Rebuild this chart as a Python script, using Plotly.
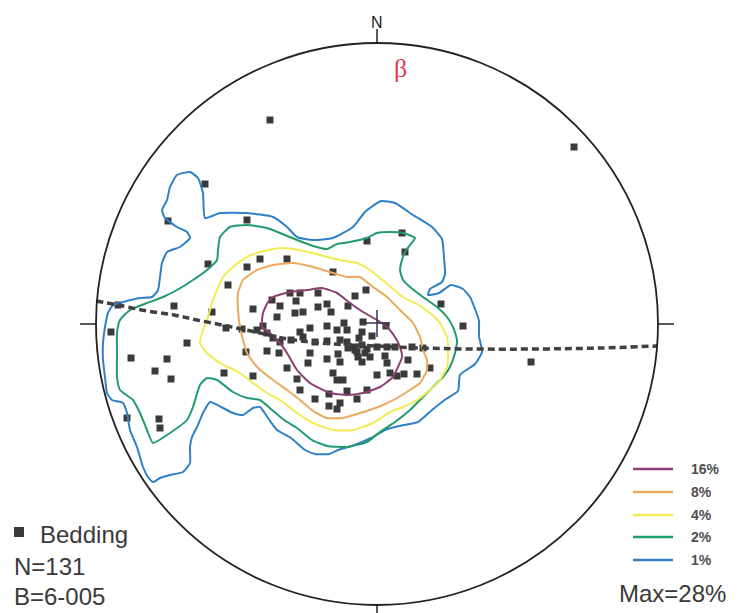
import plotly.graph_objects as go

# Net coordinates: primitive circle radius = 281 net units, centre (0, 0), north up.
NET_R = 281

# ---- Bedding poles (projected positions on the net) ----
pole_x = [-107, 197, -172, -209, -130, 25, -10, 28, -169, -117, -90, -130, -149, -44, -11, -22,
          64, 86, -259, -203, -165, -266, -190, -124, -151, -135, -246, -210, -222, -206, -153,
          -124, -131, -110, -98, -90, -80, -77, -62, -48, -48, -40, -37, -30, -20, -10, -250,
          -218, -217, -114, -104, -97, -86, -77, -67, -50, -40, -30, -15, -100, -105, -97, -87,
          -77, -82, -74, -59, -59, -50, -67, -50, -39, -37, -44, -40, -62, -50, -30, 0, -29, -81,
          -46, -33, -14, 9, -120, -110, -74, -37, -24, -15, -20, -12, -19, -7, 0, 10, 18, 35, 46,
          -69, -34, 8, 10, 13, 20, 27, 31, 40, 53, 154, -29, -22, -15, -10, -18, -5]
pole_y = [204, 177, 140, 103, 104, 91, 83, 72, 60, 65, 65, 57, 39, 52, 34, 28,
          20, -2, 19, 18, 12, -8, -19, 15, -4, -5, -34, -35, -47, -55, -49,
          -52, -28, -27, -29, -44, -55, -66, -75, -70, -82, -85, -79, -67, -75, -66, -94,
          -95, -104, -2, -14, -18, -16, -8, -4, -2, -6, -6, -8, 7, 24, 18, 31,
          31, 11, 12, 31, 17, 20, -29, -35, -30, -38, -49, -56, -18, -17, -18, -51, 18, 23,
          12, 1, 2, -2, -6, -9, -13, -16, -23, -21, -28, -29, -33, -33, -23, -23, -23, -23, -24,
          -39, -56, -32, -39, -49, -52, -50, -36, -50, -44, -38, -24, -26, -38, -25, -14, -12]

# ---- Density contours (traced) ----
c1_x = [-187, -179, -174, -172, -157, -130, -104, -90, -80, -64, -44, -24, -12, 4, 18, 36, 55, 65, 67,
        68, 65, 53, 51, 62, 74, 86, 93, 98, 102, 102, 105, 98, 83, 81, 69, 55, 41, 22, 8, -6, -25,
        -39, -48, -62, -72, -86, -100, -109, -117, -124, -134, -144, -154, -167, -174, -180, -185,
        -187, -187, -194, -207, -217, -224, -229, -234, -240, -247, -250, -254, -265, -270, -272,
        -274, -274, -272, -269, -264, -254, -237, -225, -219, -217, -215, -210, -197, -187, -190,
        -200, -212, -215, -210, -207, -200, -187]
c1_y = [152, 146, 131, 106, 111, 111, 107, 97, 87, 84, 86, 97, 112, 123, 121, 109, 97, 85, 66,
        50, 42, 35, 29, 31, 39, 35, 27, 15, 3, -12, -28, -40, -51, -67, -75, -86, -98, -102, -106,
        -114, -122, -126, -130, -130, -126, -114, -106, -94, -83, -84, -91, -89, -84, -78, -89,
        -103, -113, -123, -139, -148, -151, -154, -158, -153, -143, -123, -106, -89, -79, -76,
        -69, -53, -36, -19, -3, 11, 19, 22, 26, 27, 34, 47, 61, 72, 77, 86, 92, 97, 106, 114, 124,
        137, 149, 152]

c2_x = [-157, -147, -130, -110, -97, -80, -64, -50, -40, -27, -10, 0, 13, 26, 38, 33, 28, 25, 23,
        26, 33, 46, 60, 70, 76, 80, 78, 73, 66, 56, 43, 33, 18, 3, -10, -30, -50, -65, -80, -93,
        -105, -117, -130, -144, -160, -170, -177, -184, -190, -207, -224, -230, -237, -244, -257,
        -260, -260, -260, -257, -247, -230, -214, -200, -184, -170, -160, -159, -157]
c2_y = [87, 97, 99, 96, 91, 84, 78, 75, 80, 82, 86, 91, 92, 91, 86, 79, 72, 64, 54, 44, 37, 27,
        17, 7, -3, -16, -29, -43, -53, -63, -76, -86, -98, -108, -118, -123, -122, -116, -104,
        -96, -86, -76, -74, -68, -56, -54, -61, -83, -96, -109, -119, -106, -89, -76, -66, -53,
        -29, -9, 4, 14, 21, 27, 34, 44, 54, 64, 74, 87]

c4_x = [-177, -174, -169, -165, -160, -154, -144, -130, -117, -97, -77, -57, -37, -20, -7, 3, 15,
        26, 40, 53, 63, 70, 71, 70, 63, 53, 40, 26, 13, -4, -24, -44, -64, -80, -97, -110, -124,
        -137, -157, -170, -177]
c4_y = [-19, -6, 7, 21, 34, 47, 57, 67, 72, 76, 74, 69, 64, 61, 54, 46, 36, 27, 20, 11, 1, -13,
        -29, -43, -56, -66, -76, -83, -88, -99, -106, -106, -99, -89, -76, -69, -59, -49, -39,
        -29, -19]

c8_x = [-139, -134, -120, -104, -84, -64, -44, -30, -17, -4, 10, 23, 36, 43, 46, 50, 50, 43, 33,
        20, 6, -7, -20, -34, -50, -64, -77, -90, -104, -120, -130, -134, -137, -139, -139]
c8_y = [31, 44, 54, 59, 61, 57, 51, 47, 47, 37, 27, 14, 1, -13, -26, -36, -46, -59, -66, -74,
        -81, -86, -90, -94, -94, -87, -76, -66, -56, -43, -29, -16, -3, 14, 31]

c16_x = [-109, -104, -87, -70, -55, -40, -27, -14, 0, 10, 18, 23, 25, 21, 16, 3, -14, -30, -47,
         -67, -80, -90, -97, -107, -115, -114, -109]
c16_y = [22, 27, 32, 34, 36, 31, 21, 12, 4, -3, -13, -23, -33, -43, -53, -63, -69, -71, -69,
         -59, -46, -29, -19, -9, -3, 11, 22]

# ---- Beta great circle (traced) ----
gc_x = [-281, -259, -230, -203, -180, -150, -117, -95, -57, -1, 43, 93, 163, 223, 280]
gc_y = [23, 19, 13, 9, 4, -2, -9, -14, -19, -22, -24, -25, -25, -24, -22]

levels = ["16%", "8%", "4%", "2%", "1%"]
level_colors = ["#8B3F72", "#EBAA5E", "#F2EC52", "#229C6B", "#3080C8"]
contours = [(c16_x, c16_y), (c8_x, c8_y), (c4_x, c4_y), (c2_x, c2_y), (c1_x, c1_y)]

fig = go.Figure()

fig.add_trace(go.Scatter(x=pole_x, y=pole_y, mode="markers",
                         marker=dict(symbol="square", size=7, color="#3a3a3a"),
                         showlegend=False, hoverinfo="skip"))

for (cx, cy), col in zip(reversed(contours), reversed(level_colors)):
    fig.add_trace(go.Scatter(x=cx, y=cy, mode="lines",
                             line=dict(color=col, width=2, shape="spline", smoothing=0.5),
                             showlegend=False, hoverinfo="skip"))

fig.add_trace(go.Scatter(x=gc_x, y=gc_y, mode="lines",
                         line=dict(color="#404040", width=3.5, dash="7px,4px", shape="spline"),
                         showlegend=False, hoverinfo="skip"))

# legend key marker for Bedding
fig.add_trace(go.Scatter(x=[-358], y=[-208], mode="markers",
                         marker=dict(symbol="square", size=10, color="#3a3a3a"),
                         showlegend=False, hoverinfo="skip"))

shapes = [
    dict(type="circle", xref="x", yref="y", x0=-NET_R, x1=NET_R, y0=-NET_R, y1=NET_R,
         line=dict(color="#222222", width=1.8)),
    dict(type="line", xref="x", yref="y", x0=0, x1=0, y0=NET_R, y1=NET_R + 14,
         line=dict(color="#222222", width=1.5)),
    dict(type="line", xref="x", yref="y", x0=0, x1=0, y0=-NET_R, y1=-NET_R - 14,
         line=dict(color="#222222", width=1.5)),
    dict(type="line", xref="x", yref="y", x0=-NET_R, x1=-NET_R - 16, y0=0, y1=0,
         line=dict(color="#222222", width=1.5)),
    dict(type="line", xref="x", yref="y", x0=NET_R, x1=NET_R + 16, y0=0, y1=0,
         line=dict(color="#222222", width=1.5)),
    # centre cross
    dict(type="line", xref="x", yref="y", x0=-14, x1=13, y0=1, y1=1,
         line=dict(color="#3a2f55", width=1.5)),
    dict(type="line", xref="x", yref="y", x0=0, x1=0, y0=14, y1=-13,
         line=dict(color="#3a2f55", width=1.5)),
]
key_y = [-145, -168, -191, -213, -236]
annotations = []
for lab, col, ky in zip(levels, level_colors, key_y):
    shapes.append(dict(type="line", xref="x", yref="y", x0=256, x1=296, y0=ky, y1=ky,
                       line=dict(color=col, width=2.5)))
    annotations.append(dict(x=312, y=ky, xref="x", yref="y", text="<b>" + lab + "</b>",
                            showarrow=False, xanchor="left", yanchor="middle",
                            font=dict(family="Liberation Sans, Arial", size=14, color="#505050")))

txt_font = dict(family="Liberation Sans, Arial", size=24, color="#3a3a3a")
annotations += [
    dict(x=0, y=302, xref="x", yref="y", text="N", showarrow=False, xanchor="center",
         yanchor="middle", font=dict(family="Liberation Sans, Arial", size=16, color="#222222")),
    dict(x=23, y=256, xref="x", yref="y", text="β", showarrow=False, xanchor="center",
         yanchor="middle", font=dict(family="Liberation Serif, Times New Roman", size=26,
                                     color="#E23A50")),
    dict(x=-339, y=-210, xref="x", yref="y", text="Bedding", showarrow=False,
         xanchor="left", yanchor="middle", font=txt_font),
    dict(x=-365, y=-242, xref="x", yref="y", text="N=131", showarrow=False,
         xanchor="left", yanchor="middle", font=txt_font),
    dict(x=-365, y=-272, xref="x", yref="y", text="B=6-005", showarrow=False,
         xanchor="left", yanchor="middle", font=txt_font),
    dict(x=351, y=-269, xref="x", yref="y", text="Max=28%", showarrow=False,
         xanchor="right", yanchor="middle", font=txt_font),
]

# The page body has an 8px default margin, so the figure is 8px smaller than the window
# and the axis ranges start 8 net units in from the window's top-left corner.
fig.update_layout(
    width=729, height=605,
    margin=dict(l=0, r=0, t=0, b=0),
    paper_bgcolor="white", plot_bgcolor="white",
    xaxis=dict(range=[-369, 360], visible=False, fixedrange=True),
    yaxis=dict(range=[-289, 316], visible=False, fixedrange=True),
    shapes=shapes, annotations=annotations,
    showlegend=False,
)

fig.write_html("out.html")
